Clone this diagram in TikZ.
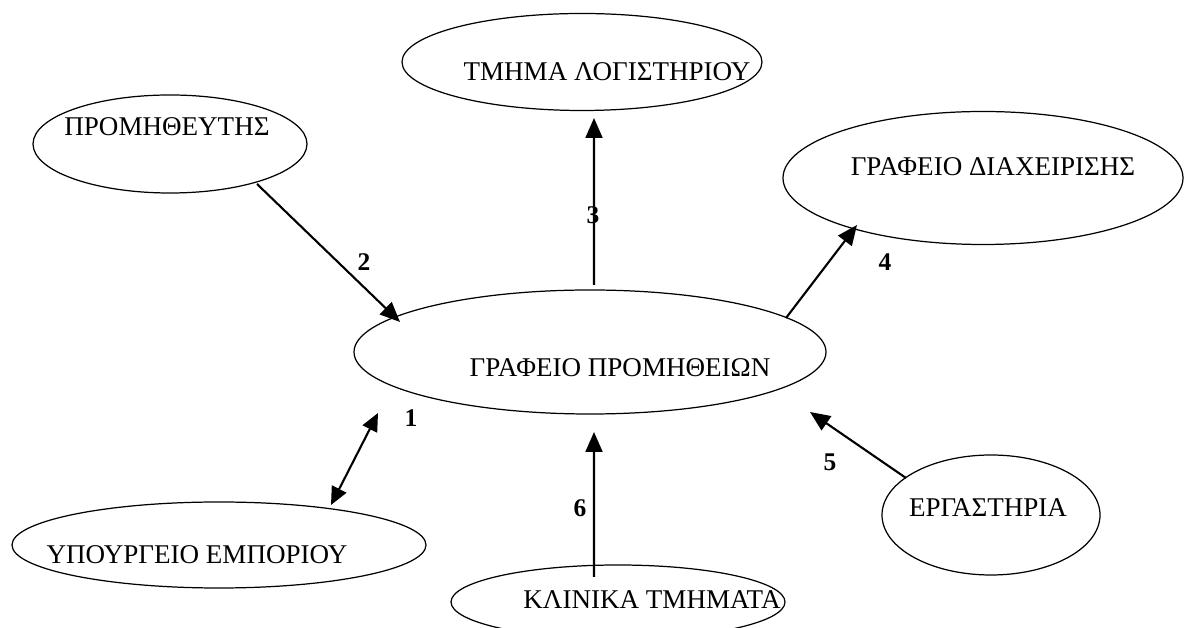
\documentclass[tikz,border=0pt]{standalone}
\usepackage{fontspec}
\setmainfont{Liberation Serif}
\usetikzlibrary{shapes.geometric, arrows.meta, calc}
\newcommand{\entfont}{\fontsize{15.4}{18}\selectfont}
\tikzset{
  entity/.style={ellipse, draw=black, line width=0.7pt,
    inner sep=0pt, outer sep=0pt},
  flow/.style={-{Triangle[length=0.4cm, width=0.34cm]}, line width=1.2pt},
  biflow/.style={{Triangle[length=0.36cm, width=0.32cm]}-{Triangle[length=0.36cm, width=0.32cm]}, line width=1.2pt},
  num/.style={font=\fontsize{14.5}{17}\selectfont\bfseries},
  every label/.style={font=\entfont}
}

\begin{document}
\begin{tikzpicture}
  \useasboundingbox (0,0) rectangle (23.7,12.56);

  % entities
  \node[entity, minimum width=9.44cm, minimum height=2.48cm,
    label={[xshift=0.60cm, yshift=-0.32cm]center:ΓΡΑΦΕΙΟ ΠΡΟΜΗΘΕΙΩΝ}] (main) at (11.80,5.52) {};
  \node[entity, minimum width=5.48cm, minimum height=1.96cm,
    label={[xshift=-0.06cm, yshift=0.34cm]center:ΠΡΟΜΗΘΕΥΤΗΣ}] (prov) at (3.40,9.68) {};
  \node[entity, minimum width=7.20cm, minimum height=1.94cm,
    label={[xshift=0.50cm, yshift=-0.20cm]center:ΤΜΗΜΑ ΛΟΓΙΣΤΗΡΙΟΥ}] (acc) at (11.64,11.32) {};
  \node[entity, minimum width=8.00cm, minimum height=2.66cm,
    label={[xshift=0.20cm, yshift=0.22cm]center:ΓΡΑΦΕΙΟ ΔΙΑΧΕΙΡΙΣΗΣ}] (mgmt) at (19.66,9.00) {};
  \node[entity, minimum width=8.28cm, minimum height=1.72cm,
    label={[xshift=-0.44cm, yshift=-0.20cm]center:ΥΠΟΥΡΓΕΙΟ ΕΜΠΟΡΙΟΥ}] (min) at (4.38,1.66) {};
  \node[entity, minimum width=6.68cm, minimum height=1.48cm,
    label={[xshift=0.68cm, yshift=0.04cm]center:ΚΛΙΝΙΚΑ ΤΜΗΜΑΤΑ}] (clin) at (12.36,0.52) {};
  \node[entity, minimum width=4.36cm, minimum height=2.40cm,
    label={[xshift=-0.06cm, yshift=0.14cm]center:ΕΡΓΑΣΤΗΡΙΑ}] (lab) at (19.82,2.26) {};

  % flows
  \draw[biflow] ($(min.center)+(2.24,0.80)$) -- ($(main.center)+(-4.24,-1.22)$);
  \draw[flow] ($(prov.center)+(1.74,-0.80)$) -- ($(main.center)+(-3.80,0.60)$);
  \draw[flow] ($(main.center)+(0.08,1.34)$) -- ($(acc.center)+(0.24,-1.12)$);
  \draw[flow] ($(main.center)+(3.92,0.68)$) -- ($(mgmt.center)+(-2.52,-0.94)$);
  \draw[flow] ($(lab.center)+(-1.70,0.74)$) -- ($(main.center)+(4.40,-1.20)$);
  \draw[flow] ($(clin.center)+(-0.48,0.50)$) -- ($(main.center)+(0.08,-1.60)$);

  % numbers
  \node[num] (n1) at (8.22,4.20) {1};
  \node[num] (n2) at (7.28,7.32) {2};
  \node[num] (n3) at (11.86,8.26) {3};
  \node[num] (n4) at (17.70,7.32) {4};
  \node[num] (n5) at (16.60,3.32) {5};
  \node[num] (n6) at (11.60,2.40) {6};
\end{tikzpicture}
\end{document}
